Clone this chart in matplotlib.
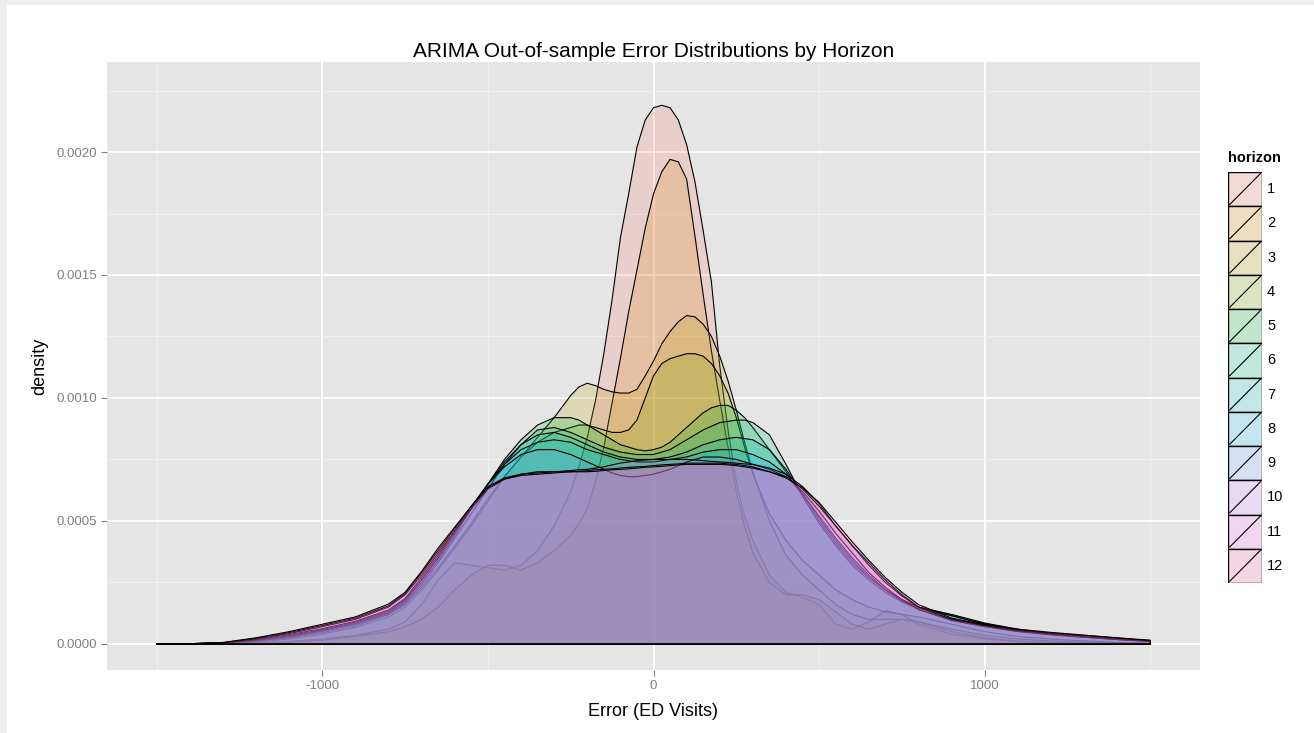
import numpy as np
import matplotlib
matplotlib.use("Agg")
import matplotlib.pyplot as plt
from matplotlib.patches import Rectangle

plt.rcParams['font.family'] = ['Liberation Sans', 'DejaVu Sans']
plt.rcParams['axes.unicode_minus'] = False

# error grid (ED visits) the densities were read at; finer near the peaks
x_err = [-1500, -1400, -1300, -1200, -1100, -1000, -900, -800,
         -750, -700, -650, -600, -550, -500, -450, -400, -350, -300,
         -250, -225, -200, -175, -150, -125, -100, -75, -50, -25, 0,
         25, 50, 75, 100, 125, 150, 175, 200, 225, 250, 275, 300,
         350, 400, 450, 500, 550, 600, 650, 700, 750,
         800, 900, 1000, 1100, 1200, 1300, 1400, 1500]

# density per horizon, in units of 1e-4
h1 = [0, 0, 0.02, 0.05, 0.1, 0.2, 0.35, 0.6,
      0.9, 1.6, 2.6, 3.3, 3.2, 3.1, 3.0, 3.2, 3.8, 4.8,
      6.2, 7.2, 8.4, 9.9, 11.8, 14.0, 16.5, 18.3, 20.2, 21.3, 21.8,
      21.9, 21.8, 21.3, 20.3, 18.8, 16.8, 14.7, 11.3, 8.7, 6.6, 5.2, 4.2,
      2.8, 2.1, 1.9, 1.6, 0.8, 0.6, 0.9, 1.35, 1.2,
      0.8, 0.4, 0.2, 0.1, 0.05, 0.03, 0.02, 0.01]
h2 = [0, 0.01, 0.02, 0.04, 0.08, 0.15, 0.3, 0.5,
      0.7, 1.0, 1.5, 2.2, 2.8, 3.2, 3.2, 3.0, 3.3, 3.8,
      4.4, 4.9, 5.5, 6.6, 8.0, 9.8, 11.6, 13.5, 15.2, 16.9, 18.3,
      19.2, 19.7, 19.6, 18.9, 16.6, 14.2, 11.9, 9.9, 8.0, 6.2, 4.8, 3.7,
      2.5, 2.0, 2.0, 1.8, 1.3, 0.8, 0.6, 0.8, 1.0,
      0.9, 0.5, 0.25, 0.12, 0.06, 0.03, 0.02, 0.01]
h3 = [0, 0, 0.02, 0.08, 0.2, 0.4, 0.67, 1.1,
      1.5, 2.2, 3.0, 3.9, 4.8, 5.8, 6.8, 7.6, 8.4, 9.2,
      10.1, 10.45, 10.6, 10.5, 10.35, 10.25, 10.2, 10.2, 10.35, 10.9, 11.5,
      12.2, 12.7, 13.1, 13.35, 13.3, 13.0, 12.5, 11.7, 10.7, 9.5, 8.2, 7.0,
      5.0, 3.6, 2.8, 2.2, 1.6, 1.2, 1.0, 1.0, 1.0,
      0.9, 0.6, 0.35, 0.2, 0.12, 0.07, 0.04, 0.02]
h4 = [0, 0, 0.02, 0.1, 0.24, 0.46, 0.73, 1.2,
      1.6, 2.3, 3.1, 4.0, 4.9, 5.9, 6.8, 7.6, 8.2, 8.6,
      8.8, 8.9, 8.9, 8.8, 8.7, 8.6, 8.6, 8.7, 9.1, 10.0, 10.9,
      11.4, 11.6, 11.7, 11.8, 11.8, 11.7, 11.4, 10.9, 10.2, 9.2, 8.0, 6.9,
      5.3, 4.2, 3.4, 2.8, 2.2, 1.8, 1.5, 1.3, 1.2,
      1.1, 0.8, 0.5, 0.3, 0.2, 0.12, 0.07, 0.03]
h5 = [0, 0.01, 0.03, 0.12, 0.29, 0.52, 0.8, 1.25,
      1.7, 2.5, 3.4, 4.4, 5.5, 6.5, 7.5, 8.3, 8.9, 9.2,
      9.2, 9.1, 8.9, 8.7, 8.5, 8.3, 8.1, 8.0, 7.9, 7.85, 7.9,
      8.0, 8.2, 8.5, 8.8, 9.1, 9.4, 9.6, 9.7, 9.7, 9.5, 9.2, 8.8,
      7.9, 7.0, 6.0, 5.0, 4.1, 3.3, 2.7, 2.2, 1.8,
      1.5, 1.2, 0.85, 0.6, 0.42, 0.3, 0.2, 0.1]
h6 = [0, 0.01, 0.03, 0.12, 0.28, 0.52, 0.8, 1.2,
      1.65, 2.4, 3.3, 4.3, 5.3, 6.3, 7.3, 8.1, 8.7, 8.8,
      8.6, 8.45, 8.3, 8.15, 8.0, 7.9, 7.8, 7.75, 7.7, 7.7, 7.7,
      7.8, 7.9, 8.1, 8.3, 8.5, 8.7, 8.85, 9.0, 9.05, 9.1, 9.1, 9.0,
      8.5, 7.3, 6.0, 4.9, 4.0, 3.2, 2.6, 2.1, 1.7,
      1.45, 1.15, 0.82, 0.58, 0.4, 0.28, 0.18, 0.09]
h7 = [0, 0.01, 0.03, 0.14, 0.31, 0.55, 0.84, 1.28,
      1.75, 2.6, 3.5, 4.5, 5.5, 6.5, 7.4, 8.1, 8.5, 8.6,
      8.4, 8.25, 8.1, 7.95, 7.8, 7.7, 7.6, 7.55, 7.5, 7.5, 7.5,
      7.55, 7.6, 7.7, 7.8, 7.95, 8.1, 8.2, 8.3, 8.35, 8.4, 8.35, 8.3,
      7.9, 7.1, 6.1, 5.1, 4.2, 3.4, 2.7, 2.2, 1.8,
      1.5, 1.15, 0.8, 0.56, 0.4, 0.28, 0.19, 0.1]
h8 = [0, 0.01, 0.03, 0.15, 0.34, 0.58, 0.88, 1.33,
      1.8, 2.6, 3.5, 4.5, 5.5, 6.5, 7.3, 7.9, 8.2, 8.3,
      8.2, 8.05, 7.9, 7.8, 7.7, 7.6, 7.5, 7.45, 7.4, 7.4, 7.4,
      7.45, 7.5, 7.55, 7.6, 7.7, 7.8, 7.85, 7.9, 7.9, 7.9, 7.8, 7.7,
      7.4, 6.9, 6.1, 5.2, 4.3, 3.5, 2.8, 2.2, 1.75,
      1.4, 1.0, 0.72, 0.52, 0.38, 0.27, 0.18, 0.1]
h9 = [0, 0.01, 0.04, 0.17, 0.38, 0.62, 0.92, 1.38,
      1.85, 2.7, 3.6, 4.6, 5.6, 6.5, 7.2, 7.7, 7.9, 7.9,
      7.7, 7.55, 7.4, 7.25, 7.1, 6.95, 6.85, 6.8, 6.8, 6.85, 6.9,
      7.0, 7.1, 7.25, 7.4, 7.5, 7.6, 7.6, 7.6, 7.55, 7.5, 7.4, 7.3,
      7.1, 6.8, 6.2, 5.4, 4.5, 3.7, 2.9, 2.3, 1.8,
      1.4, 0.95, 0.7, 0.5, 0.37, 0.27, 0.18, 0.1]
h10 = [0, 0.01, 0.04, 0.2, 0.42, 0.7, 1.0, 1.5,
       2.0, 2.8, 3.7, 4.6, 5.5, 6.3, 6.7, 6.9, 7.0, 7.0,
       7.05, 7.08, 7.1, 7.15, 7.2, 7.28, 7.35, 7.4, 7.45, 7.48, 7.5,
       7.5, 7.5, 7.5, 7.5, 7.48, 7.45, 7.42, 7.4, 7.38, 7.35, 7.32, 7.3,
       7.15, 6.9, 6.4, 5.7, 4.8, 4.0, 3.2, 2.5, 1.95,
       1.5, 1.0, 0.75, 0.55, 0.42, 0.32, 0.22, 0.12]
h11 = [0, 0.01, 0.05, 0.22, 0.46, 0.75, 1.05, 1.55,
       2.05, 2.9, 3.8, 4.7, 5.6, 6.4, 6.75, 6.9, 6.95, 7.0,
       7.0, 7.02, 7.05, 7.08, 7.1, 7.12, 7.15, 7.18, 7.2, 7.22, 7.25,
       7.28, 7.3, 7.32, 7.35, 7.35, 7.35, 7.35, 7.35, 7.32, 7.3, 7.25, 7.2,
       7.0, 6.8, 6.3, 5.6, 4.8, 4.0, 3.3, 2.6, 2.0,
       1.5, 1.0, 0.75, 0.56, 0.44, 0.34, 0.24, 0.14]
h12 = [0, 0.01, 0.06, 0.25, 0.5, 0.8, 1.1, 1.62,
       2.1, 2.95, 3.9, 4.75, 5.6, 6.35, 6.7, 6.85, 6.9, 6.95,
       7.0, 7.0, 7.0, 7.02, 7.05, 7.08, 7.1, 7.12, 7.15, 7.18, 7.2,
       7.22, 7.25, 7.28, 7.3, 7.3, 7.3, 7.3, 7.3, 7.28, 7.25, 7.2, 7.15,
       7.0, 6.75, 6.35, 5.75, 4.95, 4.15, 3.4, 2.7, 2.1,
       1.6, 1.05, 0.78, 0.6, 0.47, 0.36, 0.25, 0.15]

horizons = ["1", "2", "3", "4", "5", "6", "7", "8", "9", "10", "11", "12"]
densities = [h1, h2, h3, h4, h5, h6, h7, h8, h9, h10, h11, h12]
# ggplot default hue palette for 12 levels
colors = ["#F8766D", "#DE8C00", "#B79F00", "#7CAE00", "#00BA38", "#00C08B",
          "#00BFC4", "#00B4F0", "#619CFF", "#C77CFF", "#F564E3", "#FF64B0"]

W, H = 1314, 733
fig = plt.figure(figsize=(W / 100, H / 100), dpi=100)
fig.patch.set_facecolor("#EEEEEE")
# white page inside the thin grey frame
bg = fig.add_axes([7 / W, 0, 1 - 7 / W, 1 - 5 / H], zorder=0)
bg.set_facecolor("white")
bg.set_xticks([])
bg.set_yticks([])
for s in bg.spines.values():
    s.set_visible(False)

# main panel (pixel box 107..1200 x 62..670)
ax = fig.add_axes([107 / W, 63 / H, 1093 / W, 608 / H], zorder=2)
ax.set_facecolor("#E5E5E5")
for s in ax.spines.values():
    s.set_visible(False)

x = np.array(x_err, dtype=float)
for dens, col in zip(densities, colors):
    y = np.array(dens) * 1e-4
    px = np.concatenate([x, x[::-1]])
    py = np.concatenate([y, np.zeros_like(y)])
    rgba = matplotlib.colors.to_rgba(col, 0.2)
    ax.fill(px, py, facecolor=rgba, edgecolor="black", linewidth=0.8,
            joinstyle="round", zorder=3)

ax.set_xlim(-1650, 1650)
ax.set_ylim(-0.000106, 0.002366)
ax.set_xticks([-1000, 0, 1000])
ax.set_xticklabels(["-1000", "0", "1000"])
ax.set_xticks([-1500, -500, 500, 1500], minor=True)
yt = [0, 0.0005, 0.001, 0.0015, 0.002]
ax.set_yticks(yt)
ax.set_yticklabels(["%.4f" % v for v in yt])
ax.set_yticks([0.00025, 0.00075, 0.00125, 0.00175, 0.00225], minor=True)
ax.grid(True, which="major", color="white", linewidth=1.3, zorder=1)
ax.grid(True, which="minor", color="#F2F2F2", linewidth=0.6, zorder=1)
ax.set_axisbelow(True)
ax.tick_params(which="major", length=4, width=0.8, color="#7F7F7F",
               labelcolor="#7F7F7F", labelsize=9.5, pad=3)
ax.tick_params(which="minor", length=0)

ax.set_title("ARIMA Out-of-sample Error Distributions by Horizon", fontsize=15, pad=3.5)
ax.set_xlabel("Error (ED Visits)", fontsize=13, labelpad=8)
ax.set_ylabel("density", fontsize=13, labelpad=6)

# legend drawn by hand, ggplot style keys with a diagonal stroke
lax = fig.add_axes([1228 / W, (H - 583) / H, 34 / W, 411 / H], zorder=2)
lax.set_xlim(0, 1)
lax.set_ylim(len(horizons), 0)
lax.axis("off")
for i, (lab, col) in enumerate(zip(horizons, colors)):
    lax.add_patch(Rectangle((0, i), 1, 1, facecolor="#F2F2F2", edgecolor="none"))
    lax.add_patch(Rectangle((0, i), 1, 1, facecolor=matplotlib.colors.to_rgba(col, 0.2),
                            edgecolor="black", linewidth=1.0))
    lax.plot([0.05, 0.95], [i + 0.95, i + 0.05], color="black", linewidth=0.8)
    lax.text(1.15, i + 0.5, lab, fontsize=10.5, va="center", ha="left", color="black")
lax.text(0, -0.2, "horizon", fontsize=10.5, fontweight="bold", va="bottom", ha="left")

fig.savefig("out.png", dpi=100, facecolor=fig.get_facecolor())
